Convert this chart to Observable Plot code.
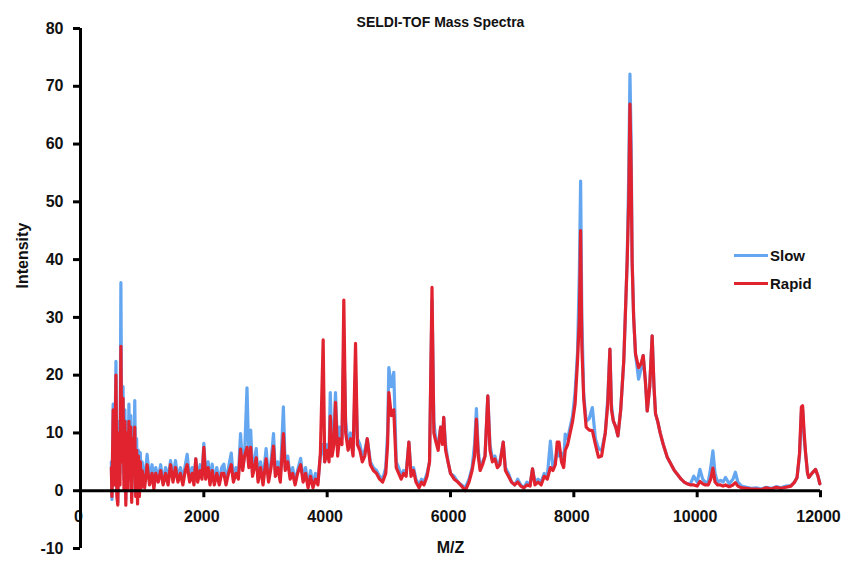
<!DOCTYPE html>
<html>
<head>
<meta charset="utf-8">
<script src="https://cdn.jsdelivr.net/npm/d3@7"></script>
<script src="https://cdn.jsdelivr.net/npm/@observablehq/plot@0.6"></script>
<style>
  body { margin: 0; background: #fff; }
  #wrap { position: relative; width: 844px; height: 563px; font-family: "Liberation Sans", Arial, sans-serif; }
  #legend { position: absolute; left: 734px; top: 241px; font-weight: bold; font-size: 15px; color: #111; }
  .item { display: flex; align-items: center; height: 28px; }
  .swatch { width: 34px; height: 3px; margin-right: 2px; }
</style>
</head>
<body>
<div id="wrap"><div id="legend"></div></div>
<script>
// M/Z positions (shared by both spectra)
const mz = [
  500,510,530,545,560,575,590,605,620,640,
  655,670,690,705,720,735,750,770,785,800,
  815,830,850,865,880,895,910,925,940,955,
  970,985,1000,1040,1080,1120,1160,1190,1220,1260,
  1300,1340,1380,1420,1460,1500,1540,1580,1620,1660,
  1700,1730,1770,1810,1840,1870,1900,1940,1970,2000,
  2030,2070,2100,2135,2170,2210,2250,2290,2325,2360,
  2400,2445,2480,2520,2560,2595,2630,2660,2700,2730,
  2760,2790,2820,2850,2880,2920,2960,3010,3050,3090,
  3130,3160,3200,3240,3290,3320,3360,3400,3440,3480,
  3520,3570,3610,3650,3690,3730,3770,3810,3850,3890,
  3935,3960,4000,4030,4050,4080,4110,4135,4170,4200,
  4240,4270,4300,4340,4380,4420,4460,4490,4530,4570,
  4610,4650,4700,4750,4800,4850,4900,4950,4980,5000,
  5040,5080,5120,5160,5200,5240,5280,5325,5360,5400,
  5440,5490,5530,5570,5620,5660,5700,5730,5760,5800,
  5840,5870,5890,5920,5960,6000,6060,6120,6180,6240,
  6300,6350,6390,6420,6450,6480,6520,6560,6605,6640,
  6680,6720,6760,6800,6855,6890,6940,6990,7040,7090,
  7140,7190,7240,7290,7330,7370,7420,7470,7520,7570,
  7620,7660,7700,7730,7760,7800,7835,7860,7900,7940,
  7980,8020,8060,8090,8110,8130,8160,8200,8250,8300,
  8350,8400,8450,8510,8550,8585,8610,8640,8680,8715,
  8760,8810,8865,8890,8910,8930,8945,8970,9000,9050,
  9090,9125,9160,9190,9230,9270,9300,9325,9360,9400,
  9450,9515,9580,9630,9675,9740,9790,9840,9890,9945,
  10000,10045,10090,10130,10180,10220,10255,10290,10330,10380,
  10420,10460,10520,10580,10620,10660,10720,10800,10880,10960,
  11040,11120,11200,11280,11360,11440,11520,11580,11620,11660,
  11690,11710,11735,11760,11790,11810,11860,11920,11960,11990
];
// Intensity, "Slow" spectrum
const slow = [
  5,-1.5,15,3,10,22.4,1,-2,12,3,
  36,8,18,2,14,-1.5,12,2,15,4,
  13,-1,11,6,15.6,2,9,-1,7,1,
  6.6,2,5,1.5,6.3,2,4.5,1,4,2,
  4.5,1.5,4,2,5.2,2.5,5.2,2,4,2,
  4.5,6.3,2,4,2,5.5,2,4.5,2.5,8.2,
  3,5,1.5,4.6,1.5,4,1.5,4,4.6,1.5,
  4,6.5,2,4,2.5,9.9,4,6,17.8,5,
  10.5,3,5,7.3,2,5,2,7.3,2,5,
  9.9,3,5,2,14.5,4,6,2.5,4,1.5,
  3.5,5.6,2,4,1,3.5,1,3,1.5,6,
  8,5,8,6,17,7,10,17,7,11,
  9,24.8,12,8,10,7,20,9,8,6,
  7,9,5,4,3.5,2.5,2,4,10,21.3,
  18,20.5,5,4,2.5,3.5,3,8.4,3,4,
  2,1,2,1.5,3,5,33,12,9,8,
  11,9,12.7,8,5,3,2.5,1.5,1,0.5,
  2,4,8,14.2,7,4,5,6,16.4,8,
  5.5,6,4.5,5,8.4,4,3,1.5,1,2,
  1,0.5,1.5,1,3.8,1.5,2,1.5,3,2.5,
  8.6,4,5,7,6,6.5,5,9.8,9,11,
  13,17,24,38,53.6,30,16.7,12,12.5,14.4,
  9,7.3,7,10,16,24.5,15,12.1,11,9.5,
  14,22.5,39.8,55,72.1,60,40,30,23.7,19.3,
  21,23.4,19,13.8,18,26.8,18,13.3,12,10,
  8,5.8,4.5,3.5,2.9,2,1.5,1.2,1.2,2.5,
  1.5,3.7,2,1.5,1.5,4,6.9,3,1.5,1.8,
  1.5,2.3,1.2,2,3.2,1.5,0.8,0.6,0.4,0.5,
  0.3,0.6,0.4,0.7,0.5,0.8,0.9,1.5,2.3,6,
  13.5,14,9,6.3,3,2.3,3,3.7,2.5,1.2
];
// Intensity, "Rapid" spectrum
const rapid = [
  4,-1,14,1,8,20,-1,-2.5,10,1,
  25,5,16,0,12,-2.5,10,0,12,2,
  11,-2,9,4,11,-1,7,-2.3,6,-1,
  5,0.5,3.5,0.5,4.5,1,3,0.3,3,1.5,
  3.5,1,3,1,4.5,1.5,4,1.5,3,1,
  3.5,4.5,1.5,3,1,5.5,1.5,3.5,2,7.5,
  2,4,1,3.5,1,3,1,3,3,1,
  3,4.5,1.5,3,2,7.2,3.5,6,7.5,4,
  7.5,2.5,4,5.7,1.5,4,1,5.5,1.5,4,
  7.7,2.5,4,1.5,9.9,3.5,5,2,3,1,
  3,4.5,1.5,3,0.5,2.5,0.5,2,1,6.5,
  26.1,5,7,5,12.9,6,8,15.3,6,9,
  8,33,10,7,9,6,25.5,8,7,5,
  6,9,4.5,3.5,3,2,1.5,3,8,17,
  13,14,4,3,2,3,2.5,8.4,2.5,3.5,
  1.5,0.5,1.5,1,2.5,5,35.2,10,8.6,7,
  11,8,12.7,7,5,3,2,1.5,0.8,0,
  1.5,3.5,6,12.4,6,3.5,4.5,6,16.4,7,
  5,5.5,4,4.5,8.4,3.5,2.5,1.5,1,1.5,
  0.8,0.5,1,0.8,3.8,1,1.5,1,2.5,2,
  4,3.5,4.5,8.4,8.4,5,4,7,8,10,
  12,15,22.5,30,45,25,16,11,10.5,10.4,
  8,5.8,6,10,15,24.5,14,12.1,11,9.5,
  14,22.5,39.8,50,66.9,55,39.8,30,23.7,21.3,
  22,23.4,19,13.8,18,26.8,18,13.3,12,10,
  8,5.8,4.5,3.5,2.9,2,1.5,1.2,1,1,
  0.8,1.6,1.2,1,1,2,3.9,1.5,1,1,
  0.8,1,0.7,1,1.4,0.8,0.5,0.4,0.3,0.3,
  0.2,0.5,0.3,0.6,0.4,0.6,0.8,1.5,2.3,6.5,
  14.5,14.7,10,6.3,3,2.3,3,3.7,2.5,1.2
];
const seriesNames = ["Slow", "Rapid"];
const seriesColors = ["#64a7f0", "#e0232f"];
const xTicks = [0, 2000, 4000, 6000, 8000, 10000, 12000];
const yTicks = [-10, 0, 10, 20, 30, 40, 50, 60, 70, 80];
const titleText = "SELDI-TOF Mass Spectra";
const xLabel = "M/Z";
const yLabel = "Intensity";

const slowData = mz.map((m, i) => ({mz: m, v: slow[i]}));
const rapidData = mz.map((m, i) => ({mz: m, v: rapid[i]}));

const chart = Plot.plot({
  width: 844,
  height: 563,
  marginLeft: 80,
  marginRight: 24,
  marginTop: 28,
  marginBottom: 15,
  x: {domain: [0, 12000], axis: null, label: null},
  y: {domain: [-10, 80], axis: null, label: null},
  style: {
    fontFamily: "'Liberation Sans', Arial, sans-serif",
    fontWeight: "bold",
    fontSize: "16px",
    color: "#111",
    background: "white",
    overflow: "visible"
  },
  marks: [
    Plot.line(slowData, {x: "mz", y: "v", stroke: seriesColors[0], strokeWidth: 3.2}),
    Plot.line(rapidData, {x: "mz", y: "v", stroke: seriesColors[1], strokeWidth: 3.2}),
    Plot.ruleY([0], {stroke: "#000", strokeWidth: 3}),
    Plot.ruleX(xTicks, {x: d => d, y1: 0, y2: 0, insetBottom: -7, stroke: "#000", strokeWidth: 3}),
    Plot.text(xTicks, {x: d => d, y: 0, dy: 26, dx: -2, text: d => String(d), fill: "#111", fontSize: 16}),
    Plot.ruleX([0], {stroke: "#000", strokeWidth: 3}),
    Plot.axisY({ticks: yTicks, label: null, tickSize: 7, tickPadding: 10, strokeWidth: 3, stroke: "#000", fill: "#111", fontSize: 16, tickFormat: d => String(d)}),
    Plot.text([yLabel], {frameAnchor: "left", dx: -58, rotate: -90, text: d => d, fill: "#111", fontSize: 16}),
    Plot.text([xLabel], {frameAnchor: "bottom", dy: 4, text: d => d, fill: "#111", fontSize: 16}),
    Plot.text([titleText], {frameAnchor: "top", dy: -11, dx: -10, text: d => d, fill: "#111", fontSize: 14})
  ]
});
document.getElementById("wrap").prepend(chart);

const legend = document.getElementById("legend");
seriesNames.forEach((name, i) => {
  const item = document.createElement("div");
  item.className = "item";
  const sw = document.createElement("div");
  sw.className = "swatch";
  sw.style.background = seriesColors[i];
  const label = document.createElement("span");
  label.textContent = name;
  item.appendChild(sw);
  item.appendChild(label);
  legend.appendChild(item);
});
</script>
</body>
</html>
